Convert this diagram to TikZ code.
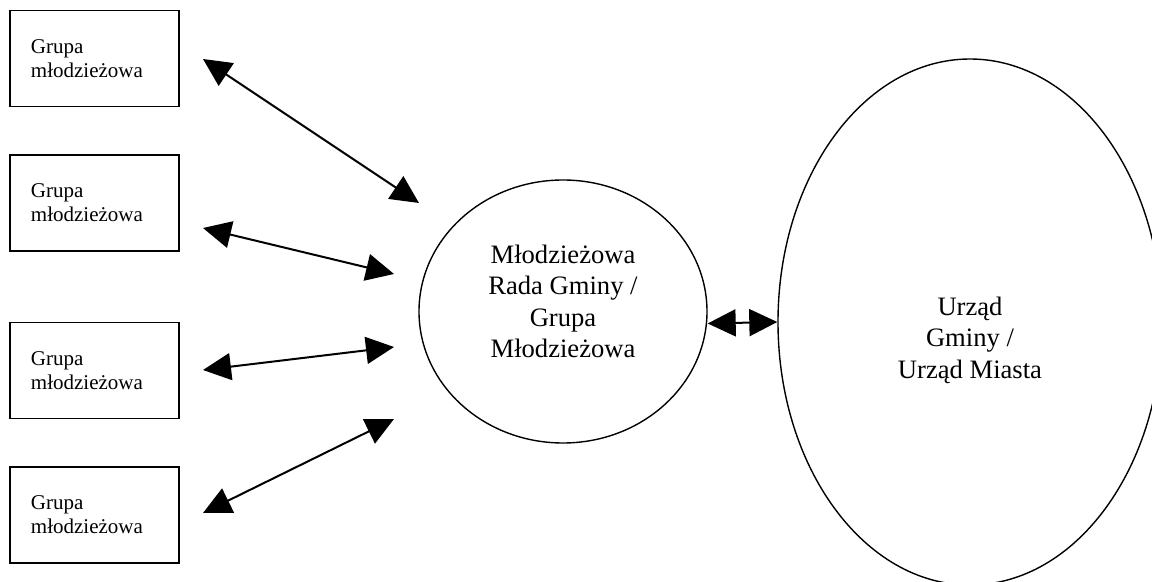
\documentclass[tikz,border=0pt]{standalone}
\usepackage{fontspec}
\setmainfont{Liberation Serif}
\usetikzlibrary{arrows.meta,shapes.geometric}

\begin{document}
\begin{tikzpicture}[
    x=0.5pt, y=-0.5pt,
    box/.style={rectangle, draw, line width=0.75pt, minimum width=84.5pt, minimum height=48pt, text width=63.5pt, inner xsep=10.5pt, align=left, font=\fontsize{10.5}{12}\selectfont},
    oval/.style={ellipse, draw, line width=0.7pt, inner sep=0pt},
    big/.style={align=center, font=\fontsize{13.3}{15.8}\selectfont},
    arrow/.style={<->, >={Triangle[length=14pt, width=13.5pt]}, line width=1pt}
]
\useasboundingbox (0,0) rectangle (1152,582);

% Youth groups
\node[box] (grupa1) at (94.5,58.5) {Grupa\\młodzieżowa};
\node[box] (grupa2) at (94.5,203) {Grupa\\młodzieżowa};
\node[box] (grupa3) at (94.5,370.5) {Grupa\\młodzieżowa};
\node[box] (grupa4) at (94.5,515) {Grupa\\młodzieżowa};

% Youth council
\node[oval, minimum width=144pt, minimum height=131.5pt,
      label={[big, yshift=5pt]center:{Młodzieżowa\\Rada Gminy /\\Grupa\\Młodzieżowa}}] (rada) at (563,311.5) {};

% Town office
\node[oval, minimum width=192pt, minimum height=263pt,
      label={[big, yshift=-9pt]center:{Urząd\\Gminy /\\Urząd Miasta}}] (urzad) at (970,322) {};

% Arrow ends
\coordinate (g1) at (203,59);
\coordinate (r1) at (419,203);
\coordinate (g2) at (203,228);
\coordinate (r2) at (394,274);
\coordinate (g3) at (203,370);
\coordinate (r3) at (394,347);
\coordinate (g4) at (203,513);
\coordinate (r4) at (394,419);

% Arrows
\draw[arrow] (g1) -- (r1);
\draw[arrow] (g2) -- (r2);
\draw[arrow] (g3) -- (r3);
\draw[arrow] (g4) -- (r4);
\draw[arrow] ([yshift=-6pt]rada.east) -- (urzad.west);

\end{tikzpicture}
\end{document}
